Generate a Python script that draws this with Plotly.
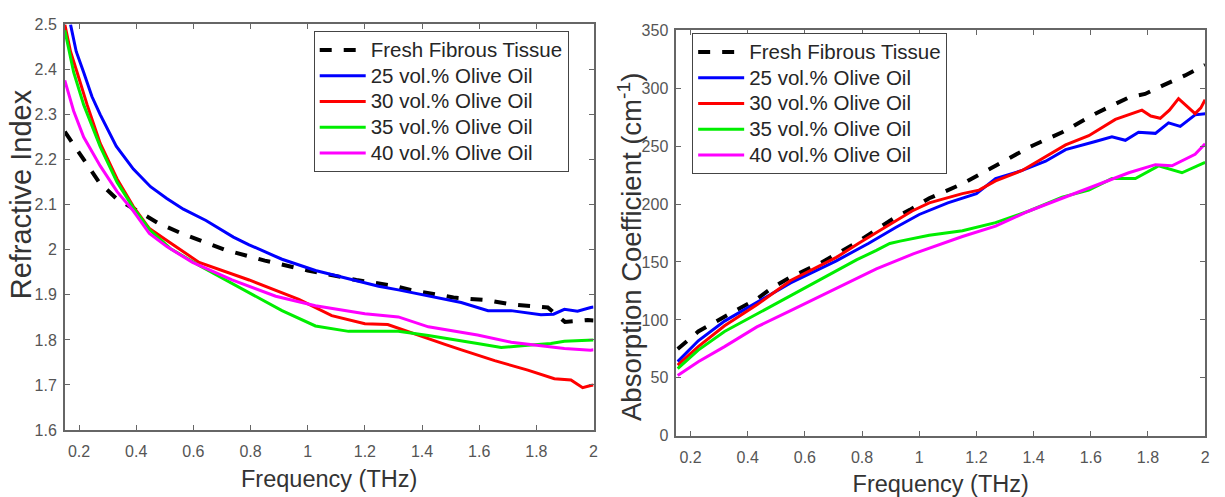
import plotly.graph_objects as go

# ---------------- Left panel: refractive index ----------------
fresh_f = [0.15, 0.2, 0.27, 0.33, 0.42, 0.48, 0.56, 0.71, 0.85, 1.0, 1.17, 1.31, 1.36, 1.51, 1.63, 1.71, 1.84, 1.9, 1.98, 2.0]
fresh_n = [2.262, 2.215, 2.15, 2.114, 2.08, 2.058, 2.036, 2.0, 1.976, 1.954, 1.933, 1.919, 1.911, 1.894, 1.888, 1.879, 1.872, 1.84, 1.844, 1.843]

blue_f = [0.17, 0.19, 0.216, 0.245, 0.274, 0.33, 0.39, 0.45, 0.507, 0.565, 0.644, 0.74, 0.795, 0.91, 1.027, 1.143, 1.248, 1.317, 1.422, 1.537, 1.631, 1.711, 1.816, 1.86, 1.898, 1.944, 1.99, 2.0]
blue_n = [2.5, 2.44, 2.394, 2.34, 2.30, 2.23, 2.179, 2.14, 2.114, 2.09, 2.065, 2.028, 2.011, 1.979, 1.954, 1.936, 1.919, 1.911, 1.897, 1.883, 1.865, 1.865, 1.856, 1.857, 1.868, 1.8635, 1.872, 1.873]

red_f = [0.15, 0.17, 0.193, 0.228, 0.274, 0.333, 0.39, 0.446, 0.52, 0.62, 0.795, 0.969, 1.084, 1.2, 1.28, 1.364, 1.48, 1.538, 1.654, 1.77, 1.863, 1.921, 1.962, 1.99, 2.0]
red_n = [2.5, 2.44, 2.394, 2.322, 2.236, 2.157, 2.096, 2.047, 2.015, 1.972, 1.933, 1.89, 1.854, 1.836, 1.834, 1.815, 1.79, 1.778, 1.754, 1.733, 1.714, 1.711, 1.694, 1.699, 1.70]

green_f = [0.15, 0.165, 0.181, 0.216, 0.274, 0.333, 0.39, 0.446, 0.519, 0.62, 0.795, 0.91, 1.027, 1.143, 1.317, 1.422, 1.594, 1.677, 1.77, 1.851, 1.898, 1.99, 2.0]
green_n = [2.487, 2.44, 2.394, 2.322, 2.229, 2.15, 2.093, 2.045, 2.003, 1.965, 1.904, 1.865, 1.831, 1.819, 1.819, 1.81, 1.792, 1.783, 1.788, 1.792, 1.797, 1.8, 1.8]

magenta_f = [0.15, 0.181, 0.216, 0.274, 0.333, 0.39, 0.446, 0.507, 0.597, 0.735, 0.888, 1.027, 1.2, 1.317, 1.422, 1.594, 1.712, 1.828, 1.898, 1.99, 2.0]
magenta_n = [2.376, 2.308, 2.25, 2.186, 2.129, 2.086, 2.036, 2.007, 1.972, 1.933, 1.897, 1.876, 1.858, 1.851, 1.829, 1.811, 1.795, 1.786, 1.781, 1.777, 1.778]

# ---------------- Right panel: absorption coefficient ----------------
fresh_af = [0.155, 0.227, 0.342, 0.432, 0.487, 0.55, 0.655, 0.782, 0.919, 0.967, 1.035, 1.151, 1.267, 1.384, 1.5, 1.616, 1.733, 1.79, 1.849, 1.93, 2.0]
fresh_a = [75, 90, 106, 118, 128, 137, 149, 167, 189, 195, 205, 217.5, 233, 249, 262, 278, 292, 295, 302, 311, 320]

blue_af = [0.155, 0.227, 0.319, 0.432, 0.55, 0.71, 0.822, 0.919, 1.0, 1.1, 1.2, 1.267, 1.36, 1.442, 1.512, 1.616, 1.674, 1.721, 1.767, 1.826, 1.872, 1.913, 1.965, 2.0]
blue_a = [64, 82, 99, 115, 132, 151, 166, 180, 191, 201, 209, 222, 229, 237, 247, 254, 258, 255, 262, 261, 270, 267, 277, 278]

red_af = [0.155, 0.227, 0.319, 0.432, 0.55, 0.71, 0.794, 0.919, 0.975, 1.035, 1.151, 1.209, 1.267, 1.36, 1.442, 1.512, 1.593, 1.686, 1.779, 1.81, 1.843, 1.875, 1.907, 1.935, 1.965, 1.985, 2.0]
red_a = [61, 77, 95, 113, 134, 154, 167, 186, 194, 201, 209, 212, 220, 229, 241, 251, 259, 273, 281, 276, 274, 281, 291, 285, 278, 283, 290]

green_af = [0.155, 0.227, 0.319, 0.432, 0.55, 0.71, 0.782, 0.85, 0.897, 0.933, 0.975, 1.035, 1.151, 1.267, 1.384, 1.5, 1.593, 1.674, 1.756, 1.837, 1.919, 2.0]
green_a = [58, 74, 90, 105, 121, 142, 152, 160, 166, 168, 170, 173, 177, 184, 194, 206, 212, 222, 222, 233, 227, 236]

magenta_af = [0.155, 0.227, 0.319, 0.432, 0.55, 0.71, 0.782, 0.85, 0.979, 1.035, 1.151, 1.267, 1.384, 1.5, 1.616, 1.733, 1.826, 1.884, 1.965, 2.0]
magenta_a = [52, 64, 77, 94, 108, 127, 136, 144, 157, 162, 172, 181, 194, 205, 216, 227, 234, 233, 243, 252]

labels = ["Fresh Fibrous Tissue", "25 vol.% Olive Oil", "30 vol.% Olive Oil",
          "35 vol.% Olive Oil", "40 vol.% Olive Oil"]
colors = ["#000000", "#0000FF", "#FF0000", "#00EE00", "#FF00FF"]

FONT = "Arial, Liberation Sans, sans-serif"
LEG_TEXT = '<span style="font-size:20.5px">{}</span>'

fig = go.Figure()

left_series = [(fresh_f, fresh_n), (blue_f, blue_n), (red_f, red_n), (green_f, green_n), (magenta_f, magenta_n)]
right_series = [(fresh_af, fresh_a), (blue_af, blue_a), (red_af, red_a), (green_af, green_a), (magenta_af, magenta_a)]

for i, (xs, ys) in enumerate(left_series):
    fig.add_trace(go.Scatter(
        x=xs, y=ys, mode="lines", name=LEG_TEXT.format(labels[i]),
        line=dict(color=colors[i], width=4 if i == 0 else 3, dash="dash" if i == 0 else "solid"),
        xaxis="x", yaxis="y", legend="legend"))

for i, (xs, ys) in enumerate(right_series):
    fig.add_trace(go.Scatter(
        x=xs, y=ys, mode="lines", name=LEG_TEXT.format(labels[i]),
        line=dict(color=colors[i], width=4 if i == 0 else 3, dash="dash" if i == 0 else "solid"),
        xaxis="x2", yaxis="y2", legend="legend2"))

axis_common = dict(
    showline=True, linecolor="#666666", linewidth=1.5, mirror="allticks",
    ticks="inside", ticklen=5, tickcolor="#666666", tickwidth=1,
    showgrid=False, zeroline=False,
    tickfont=dict(family=FONT, size=16, color="#555555"),
)
xtitle_font = dict(family=FONT, size=23.5, color="#333333")

legend_common = dict(
    xanchor="left", yanchor="top", bgcolor="white", bordercolor="#444444", borderwidth=1,
    font=dict(family=FONT, size=17.5, color="#262626"), tracegroupgap=0,
    itemwidth=46, entrywidth=215, entrywidthmode="pixels",
)

fig.update_layout(
    width=1225, height=497,
    margin=dict(l=0, r=0, t=0, b=0),
    paper_bgcolor="white", plot_bgcolor="white",
    xaxis=dict(domain=[0.0531, 0.4865], range=[0.15, 2], dtick=0.2, tick0=0.2, ticklabelstandoff=6,
               title=dict(text="Frequency (THz)", font=xtitle_font, standoff=12), **axis_common),
    yaxis=dict(domain=[0.1207, 0.9658], range=[1.6, 2.5], dtick=0.1, tick0=1.6, ticklabelstandoff=3,
               **axis_common),
    xaxis2=dict(domain=[0.5543, 0.9878], range=[0.15, 2], dtick=0.2, tick0=0.2, anchor="y2",
                ticklabelstandoff=6,
                title=dict(text="Frequency (THz)", font=xtitle_font, standoff=12), **axis_common),
    yaxis2=dict(domain=[0.1087, 0.9537], range=[0, 350], dtick=50, tick0=0, anchor="x2",
                ticklabelstandoff=3, **axis_common),
    legend=dict(x=315 / 1225, y=1 - 24 / 497, **legend_common),
    legend2=dict(x=695 / 1225, y=1 - 26 / 497, **legend_common),
    showlegend=True,
    annotations=[
        dict(text="Refractive Index", textangle=-90, xref="paper", yref="paper",
             x=21 / 1225, y=1 - 193 / 497, xanchor="center", yanchor="middle", showarrow=False,
             font=dict(family=FONT, size=29, color="#333333")),
        dict(text="Absorption Coefficient (cm<sup>-1</sup>)", textangle=-90, xref="paper", yref="paper",
             x=633 / 1225, y=1 - 247 / 497, xanchor="center", yanchor="middle", showarrow=False,
             font=dict(family=FONT, size=27.5, color="#333333")),
    ],
)

fig.write_html("out.html")
